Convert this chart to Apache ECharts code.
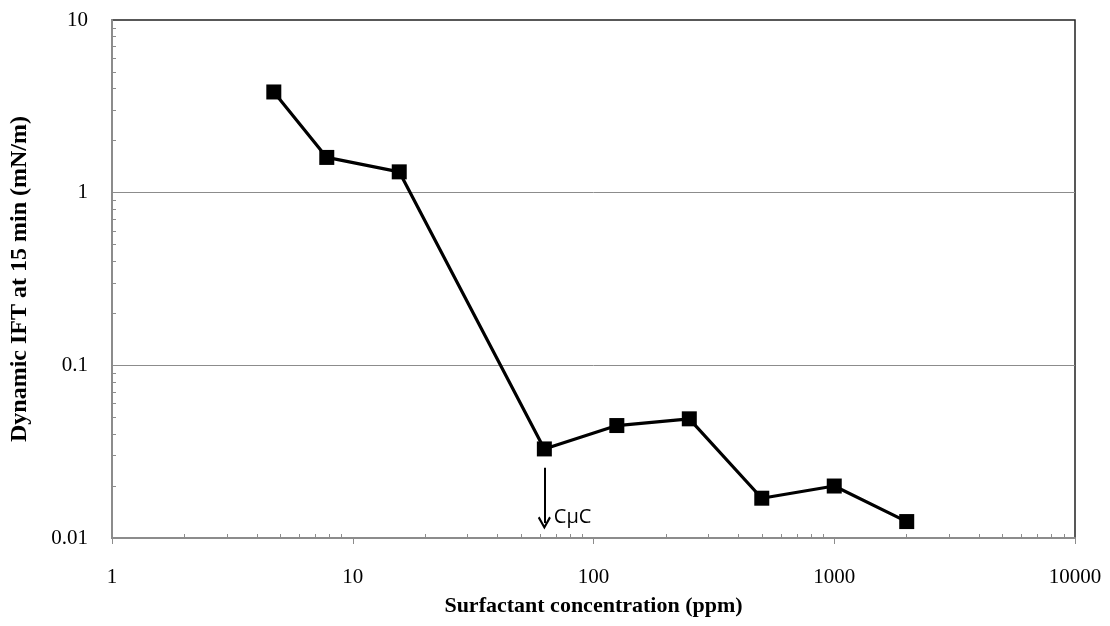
<!DOCTYPE html>
<html>
<head>
<meta charset="utf-8">
<script src="https://cdn.jsdelivr.net/npm/echarts@6/dist/echarts.min.js"></script>
<style>html,body{margin:0;padding:0;background:#fff}#c{width:1110px;height:626px}</style>
</head>
<body>
<div id="c"></div>
<script>
// Data
var concentration = [4.7, 7.8, 15.6, 62.5, 125, 250, 500, 1000, 2000];
var ift = [3.83, 1.60, 1.32, 0.0328, 0.0448, 0.049, 0.0170, 0.0200, 0.01245];
var xTickLabels = [1, 10, 100, 1000, 10000];
var yTickLabels = [0.01, 0.1, 1, 10];
var yGridLines = [0.1, 1];
// CMC annotation (arrow from / to, label position)
var cmcX = 62.5;
var cmcArrowY = [0.0255, 0.0122];
var cmcLabelY = 0.0131;
var cmcText = 'C\u03bcC';

function minorValues(lo, hi) {
  var out = [];
  for (var d = lo; d < hi; d *= 10) {
    for (var k = 1; k <= 9; k++) {
      var v = +(d * k).toPrecision(6);
      if (v > lo && v < hi) out.push(v);
    }
  }
  return out;
}
var xMinor = minorValues(1, 10000).filter(function (v) { return xTickLabels.indexOf(v) < 0; });
var yMinor = minorValues(0.01, 10).filter(function (v) { return yTickLabels.indexOf(v) < 0; });

function plain(v) { return String(+Number(v).toPrecision(4)); }

var serif = '"Liberation Serif", "Times New Roman", serif';
var chart = echarts.init(document.getElementById('c'));
chart.setOption({
  animation: false,
  grid: { left: 111, right: 35, top: 20, bottom: 88, show: true, borderColor: '#222', borderWidth: 1.5, backgroundColor: 'transparent' },
  xAxis: [{
    type: 'log', logBase: 10, min: 1, max: 10000,
    name: 'Surfactant concentration (ppm)', nameLocation: 'middle', nameGap: 57,
    nameTextStyle: { fontFamily: serif, fontWeight: 'bold', fontSize: 22, color: '#000' },
    axisLine: { lineStyle: { color: '#8c8c8c', width: 2 } },
    axisTick: { show: true, inside: true, length: 4, customValues: xMinor, lineStyle: { color: '#8c8c8c', width: 1 } },
    axisLabel: { fontFamily: serif, fontSize: 21, color: '#000', margin: 29, customValues: xTickLabels, formatter: plain },
    splitLine: { show: false }
  }, {
    type: 'log', logBase: 10, min: 1, max: 10000, position: 'bottom',
    axisLine: { show: false },
    axisTick: { show: true, inside: false, length: 6, customValues: xTickLabels, lineStyle: { color: '#8c8c8c', width: 1 } },
    axisLabel: { show: false },
    splitLine: { show: false }
  }],
  yAxis: {
    type: 'log', logBase: 10, min: 0.01, max: 10,
    name: 'Dynamic IFT at 15 min (mN/m)', nameLocation: 'middle', nameGap: 80,
    nameTextStyle: { fontFamily: serif, fontWeight: 'bold', fontSize: 24, color: '#000' },
    axisLine: { show: true, lineStyle: { color: '#8c8c8c', width: 2 } },
    axisTick: { show: true, inside: true, length: 4, customValues: yMinor, lineStyle: { color: '#8c8c8c', width: 1 } },
    axisLabel: { fontFamily: serif, fontSize: 21, color: '#000', margin: 24,
      customValues: yTickLabels, formatter: plain },
    splitLine: { show: false }
  },
  series: [{
    type: 'line',
    data: [],
    z: 1,
    silent: true,
    markLine: {
      silent: true,
      symbol: ['none', 'none'],
      label: { show: false },
      lineStyle: { color: '#8c8c8c', width: 1, type: 'solid' },
      data: yGridLines.map(function (v) { return { yAxis: v }; })
    }
  }, {
    type: 'line',
    data: concentration.map(function (c, i) { return [c, ift[i]]; }),
    symbol: 'rect', symbolSize: 15,
    itemStyle: { color: '#000' },
    lineStyle: { color: '#000', width: 3.2 },
    z: 5,
    markLine: {
      silent: true,
      symbol: ['none', 'path://M5,0 L10,9 L8.7,10 L5,3.4 L1.3,10 L0,9 Z'],
      symbolSize: [13, 13],
      lineStyle: { color: '#000', width: 2, type: 'solid' },
      label: { show: false },
      data: [[{ coord: [cmcX, cmcArrowY[0]] }, { coord: [cmcX, cmcArrowY[1]] }]]
    },
    markPoint: {
      silent: true,
      symbol: 'circle', symbolSize: 1,
      itemStyle: { color: 'rgba(0,0,0,0)' },
      label: { show: true, position: 'right', distance: 9, formatter: cmcText,
        fontFamily: '"Open Sans", "Liberation Sans", sans-serif', fontSize: 20, color: '#000' },
      data: [{ coord: [cmcX, cmcLabelY] }]
    }
  }]
});
</script>
</body>
</html>
